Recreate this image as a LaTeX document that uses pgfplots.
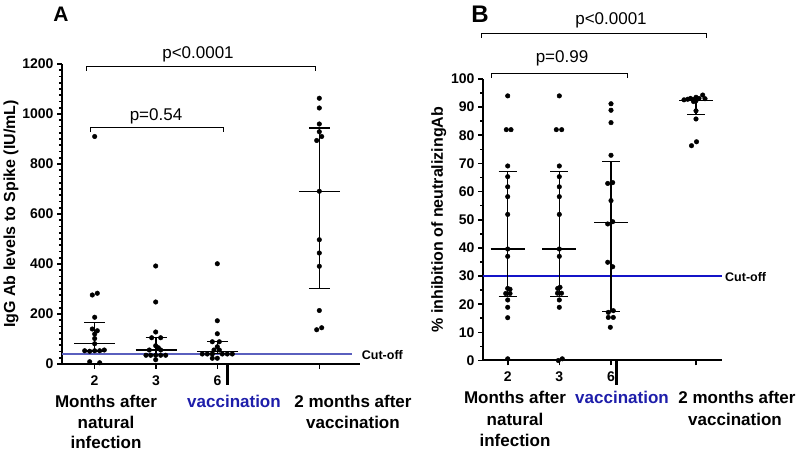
\documentclass[border=0pt]{standalone}
\usepackage{fontspec}
\setmainfont{Liberation Sans}
\usepackage{pgfplots}
\pgfplotsset{compat=1.18}

\definecolor{cutA}{RGB}{90,95,190}
\definecolor{cutB}{RGB}{20,20,200}
\definecolor{vacc}{RGB}{30,30,170}
\newcommand{\fs}[1]{\fontsize{#1}{#1}\selectfont}

\pgfplotsset{
  prism/.style={
    scale only axis, anchor=south west, clip=false,
    axis x line=bottom, axis y line=left,
    axis line style={-, line width=2pt},
    tick align=outside,
    major tick length=5pt, minor tick length=3pt,
    every tick/.style={black, line width=1.6pt},
    ticklabel style={font=\bfseries\fs{14}},
    xticklabel style={yshift=-3pt},
    /pgf/number format/assume math mode=true,
    /pgf/number format/1000 sep={},
    ylabel style={font=\bfseries\fs{16}},
  },
  dots/.style={only marks, mark=*, mark size=2.3pt, black},
  bar/.style={black, line width=1.2pt, no marks},
}

\begin{document}
\begin{tikzpicture}
\useasboundingbox (0,0) rectangle (797pt,454pt);

% ---------------- panel A ----------------
\begin{axis}[prism,
    at={(62pt,90pt)}, width=298pt, height=300pt,
    xmin=0, xmax=298, ymin=0, ymax=1200,
    xtick={32.5,94,155.5,257.3}, xticklabels={2,3,6,{}},
    ytick={0,200,...,1200}, minor y tick num=7,
    ylabel={IgG Ab levels to Spike (IU/mL)},
    ylabel shift=-3pt,
]
\addplot[cutA, line width=2pt] coordinates {(0,41) (290,41)};
\node[anchor=west, inner sep=0pt, font=\bfseries\fs{12.5}] at (axis cs:299.7,34.7) {Cut-off};

% 2 months
\addplot[dots] coordinates {(32.7,910) (30.3,276) (35.3,283) (32.7,187) (30.3,140) (35.3,133)
  (32.7,120) (32.7,102) (32.7,81) (22.7,53) (27.7,51) (32.7,53) (37.7,53) (42.3,56) (27.7,9) (37.7,5)};
% 3 months
\addplot[dots] coordinates {(93.7,392) (93.7,248) (93.7,128) (89.7,105) (98.7,105) (93.7,73)
  (96.3,65) (87.3,56) (98.7,56) (84,35) (88.7,35) (93.7,35) (98.7,35) (103.7,35) (93.7,17)};
% 6 months
\addplot[dots] coordinates {(155.3,401) (155.3,173) (155.3,121) (150.3,89) (157.3,89) (155.3,69)
  (152,56) (157.3,56) (140.3,40) (145.3,40) (150.3,40) (160.3,40) (165.3,40) (170.3,40) (150.3,23) (155.3,23)};
% 2 months after vaccination
\addplot[dots] coordinates {(257.3,1063) (257.3,1024) (257.3,960) (257.3,929) (259.7,910) (254.7,894)
  (257.3,691) (257.3,497) (257.3,444) (257.3,391) (257.3,214) (259.7,145) (254.7,137)};

% median and interquartile range
\addplot[bar] coordinates {(32.5,52) (32.5,166)};
\addplot[bar] coordinates {(12,83) (53,83)};
\addplot[bar] coordinates {(22,166) (43,166)};
\addplot[bar] coordinates {(22,52) (43,52)};
\addplot[bar] coordinates {(94,37) (94,105)};
\addplot[bar] coordinates {(73.5,56) (114.5,56)};
\addplot[bar] coordinates {(83.5,105) (104.5,105)};
\addplot[bar] coordinates {(83.5,37) (104.5,37)};
\addplot[bar] coordinates {(155.5,42) (155.5,90)};
\addplot[bar] coordinates {(135,51) (176,51)};
\addplot[bar] coordinates {(145,90) (166,90)};
\addplot[bar] coordinates {(145,42) (166,42)};
\addplot[bar] coordinates {(257.3,303) (257.3,944)};
\addplot[bar] coordinates {(236.8,691) (277.8,691)};
\addplot[bar] coordinates {(246.8,944) (267.8,944)};
\addplot[bar] coordinates {(246.8,303) (267.8,303)};

% brackets
\draw[line width=1pt] (axis cs:24.7,1172) |- (axis cs:253,1189) -- (axis cs:253,1172);
\node[anchor=base, font=\fs{17}] at (axis cs:136,1220) {p<0.0001};
\draw[line width=1pt] (axis cs:28.7,926) |- (axis cs:161.7,944) -- (axis cs:161.7,926);
\node[anchor=base, font=\fs{17}] at (axis cs:94,973) {p=0.54};

\draw[line width=2.5pt] (axis cs:165.5,0) -- ++(0pt,-21pt);
\end{axis}

% ---------------- panel B ----------------
\begin{axis}[prism,
    at={(483pt,93.5pt)}, width=239pt, height=281.5pt,
    xmin=0, xmax=239, ymin=0, ymax=100,
    xtick={24.7,76.3,128,213}, xticklabels={2,3,6,{}},
    ytick={0,10,...,100}, minor y tick num=1,
    ylabel={\% inhibition of neutralizingAb},
    ylabel shift=-2pt,
]
\addplot[cutB, line width=1.2pt] coordinates {(0,30) (238.7,30)};
\node[anchor=west, inner sep=0pt, font=\bfseries\fs{12.5}] at (axis cs:242,29.6) {Cut-off};

\addplot[dots] coordinates {(24.7,94) (23.3,82) (28,82) (24.7,69.1) (24.7,65.3) (24.7,61.7) (24.7,58.2)
  (24.7,51.9) (24.7,39.6) (24.7,37) (24.7,25.6) (27,25.3) (22.7,23.8) (27,23.8) (24.7,21.5) (24.7,18.9)
  (24.7,15.2) (24.7,0.6)};
\addplot[dots] coordinates {(76.3,94) (73.3,82) (78.7,82) (76.3,69.1) (76.3,65.3) (76.3,61.7) (76.3,58.2)
  (76.3,51.9) (76.3,39.6) (76.3,37) (74.7,25.6) (77,26) (74.5,23.9) (78.5,23.9) (76.3,21.5) (76.3,18.9)
  (75.3,0) (79.3,0.6)};
\addplot[dots] coordinates {(128,91.2) (128,88.9) (128,84.5) (128,72.9) (124.7,62.9) (129.7,63.2)
  (128,56.8) (124.7,48.5) (129.7,49.3) (124.7,34.9) (129.7,33.3) (125.3,17.1) (130.3,17.7)
  (125.3,15.3) (130.3,15.3) (127.3,11.8)};
\addplot[dots] coordinates {(204.7,92.8) (207.5,93.1) (210.3,92.7) (213,93.5) (216,93.1) (219.7,94.3)
  (222,93.0) (201,92.6) (213,92.3) (210.5,92.0) (213,88.7) (213,85.8) (213.5,77.7) (208.5,76.3)};

\addplot[bar] coordinates {(24.7,22.7) (24.7,67)};
\addplot[bar] coordinates {(7.7,39.6) (41.7,39.6)};
\addplot[bar] coordinates {(15.7,67) (33.7,67)};
\addplot[bar] coordinates {(15.7,22.7) (33.7,22.7)};
\addplot[bar] coordinates {(76.3,22.7) (76.3,67)};
\addplot[bar] coordinates {(59.3,39.6) (93.3,39.6)};
\addplot[bar] coordinates {(67.3,67) (85.3,67)};
\addplot[bar] coordinates {(67.3,22.7) (85.3,22.7)};
\addplot[bar] coordinates {(128,17.3) (128,70.6)};
\addplot[bar] coordinates {(111,48.9) (145,48.9)};
\addplot[bar] coordinates {(119,70.6) (137,70.6)};
\addplot[bar] coordinates {(119,17.3) (137,17.3)};
\addplot[bar] coordinates {(213,87.3) (213,92.5)};
\addplot[bar] coordinates {(196,92.3) (230,92.3)};
\addplot[bar] coordinates {(204,87.3) (222,87.3)};

\draw[line width=1pt] (axis cs:-1.3,114.7) |- (axis cs:223.7,116.2) -- (axis cs:223.7,114.7);
\node[anchor=base, font=\fs{17}] at (axis cs:128,119.2) {p<0.0001};
\draw[line width=1pt] (axis cs:8.7,100.5) |- (axis cs:144.3,101.9) -- (axis cs:144.3,100.5);
\node[anchor=base, font=\fs{17}] at (axis cs:79,105.7) {p=0.99};

\draw[line width=2.5pt] (axis cs:133.7,0) -- ++(0pt,-25pt);
\end{axis}

% panel letters and category labels
\node[anchor=base, font=\bfseries\fs{21}] at (61pt,432pt) {A};
\node[anchor=base, font=\bfseries\fs{24}] at (480pt,431pt) {B};

\begin{scope}[every node/.style={anchor=base, font=\bfseries\fs{17}, inner sep=0pt}]
\node at (106pt,46pt) {Months after};
\node at (106pt,25pt) {natural};
\node at (106pt,5pt) {infection};
\node[text=vacc] at (234pt,46pt) {vaccination};
\node at (353pt,46pt) {2 months after};
\node at (353pt,25pt) {vaccination};

\node at (515pt,50pt) {Months after};
\node at (515pt,28pt) {natural};
\node at (515pt,7pt) {infection};
\node[text=vacc] at (622pt,50pt) {vaccination};
\node at (737pt,50pt) {2 months after};
\node at (735pt,28pt) {vaccination};
\end{scope}
\end{tikzpicture}
\end{document}
